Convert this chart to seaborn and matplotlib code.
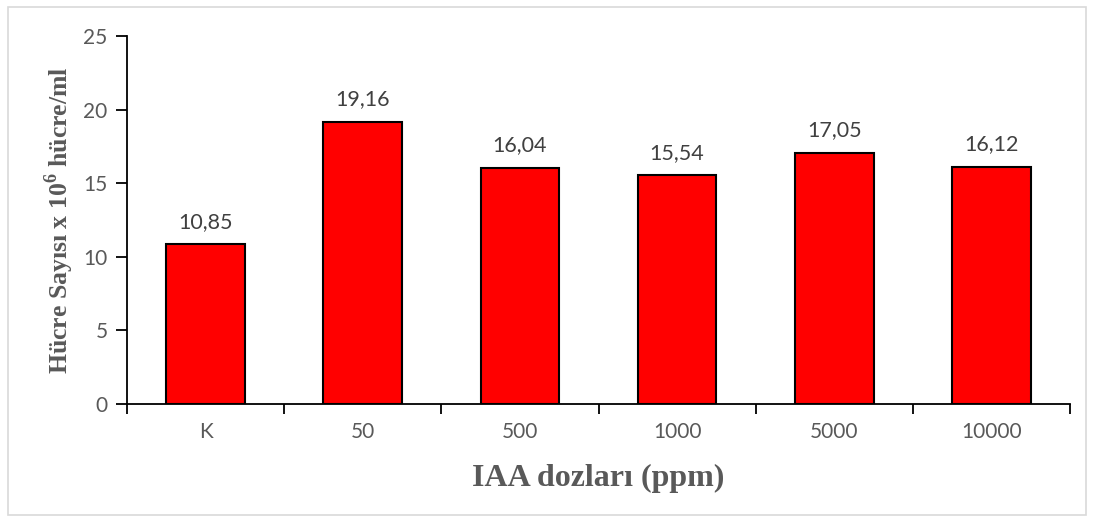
import matplotlib
matplotlib.use("Agg")
import matplotlib.pyplot as plt
import seaborn as sns
import pandas as pd
from matplotlib.patches import Rectangle

categories = ["K", "50", "500", "1000", "5000", "10000"]
values = [10.85, 19.16, 16.04, 15.54, 17.05, 16.12]
value_labels = ["10,85", "19,16", "16,04", "15,54", "17,05", "16,12"]
yticks = [0, 5, 10, 15, 20, 25]

sns.set_theme(style="white")
plt.rcParams['font.family'] = ['Lato', 'DejaVu Sans']
plt.rcParams['mathtext.fontset'] = 'custom'
plt.rcParams['mathtext.rm'] = 'Liberation Serif:bold'
plt.rcParams['mathtext.bf'] = 'Liberation Serif:bold'

df = pd.DataFrame({"doz": categories, "val": values})

fig = plt.figure(figsize=(10.94, 5.22), dpi=100)
fig.patches.append(Rectangle((8/1094, 7/522), 1078/1094, 508/522, transform=fig.transFigure,
                             fill=False, edgecolor="#d9d9d9", linewidth=1.2))
ax = fig.add_axes([127/1094, 1 - 404/522, (1070 - 127)/1094, (404 - 36)/522])

sns.barplot(data=df, x="doz", y="val", order=categories, color="#ff0000", saturation=1,
            edgecolor="black", linewidth=1.5, width=0.5, ax=ax, errorbar=None)

ax.bar_label(ax.containers[0], labels=value_labels, padding=9, fontsize=15.5, color="#404040")

ax.set_ylim(0, 25)
ax.set_xlim(-0.5, len(categories) - 0.5)
ax.set_yticks(yticks)
ax.set_yticklabels([str(t) for t in yticks], fontsize=15, color="#595959")
ax.set_xticks(range(len(categories)))
ax.set_xticklabels(categories, fontsize=15, color="#595959")
ax.set_xticks([i - 0.5 for i in range(len(categories) + 1)], minor=True)
ax.tick_params(axis="x", which="major", length=0, pad=13)
ax.tick_params(axis="x", which="minor", length=7, width=1.3, color="black", direction="out", bottom=True)
ax.tick_params(axis="y", which="major", length=8, width=1.3, color="black", direction="out", left=True, pad=6)

for s in ["top", "right"]:
    ax.spines[s].set_visible(False)
for s in ["left", "bottom"]:
    ax.spines[s].set_color("black")
    ax.spines[s].set_linewidth(1.3)

ax.set_xlabel("IAA dozları (ppm)", family="Liberation Serif", fontweight="bold",
              fontsize=23, color="#595959", labelpad=16)
ax.set_ylabel(r"Hücre Sayısı x 10$^{6}$ hücre/ml", family="Liberation Serif", fontweight="bold",
              fontsize=18.5, color="#595959", labelpad=5)

fig.savefig("out.png", dpi=100)
